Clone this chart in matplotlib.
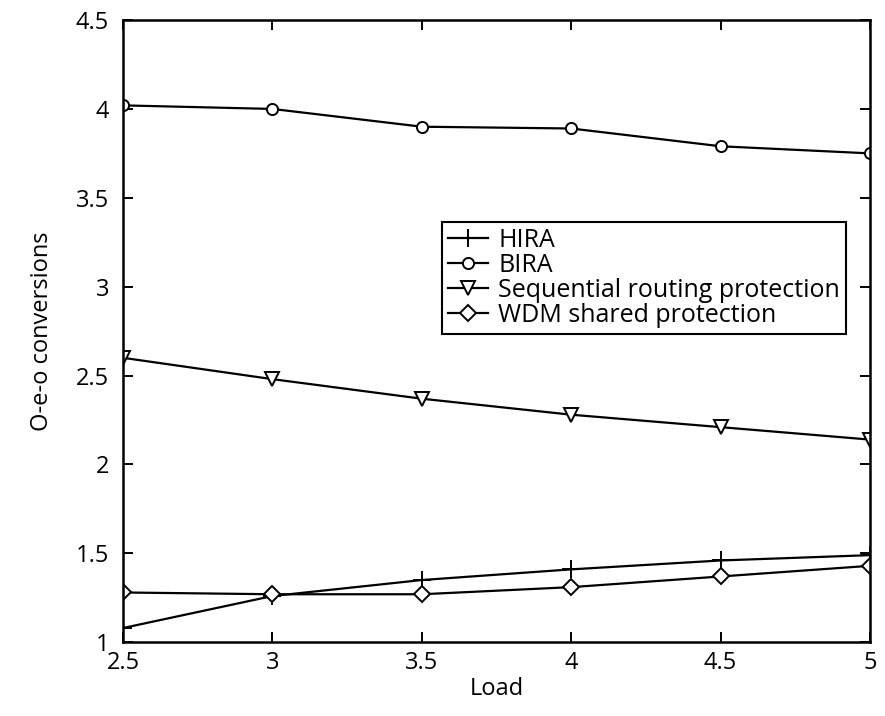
import numpy as np
import matplotlib
matplotlib.use('Agg')
import matplotlib.pyplot as plt

# Datos
carga = [2.5, 3, 3.5, 4, 4.5, 5]
hira = [1.08, 1.26, 1.35, 1.41, 1.46, 1.49]
bira = [4.02, 4.00, 3.90, 3.89, 3.79, 3.75]
secuencial = [2.60, 2.48, 2.37, 2.28, 2.21, 2.14]
wdm = [1.28, 1.27, 1.27, 1.31, 1.37, 1.43]

plt.rcParams['font.family'] = ['Open Sans', 'DejaVu Sans']

fig = plt.figure(figsize=(8.85, 7.16), dpi=100)
ax = fig.add_axes([0.139, 0.103, 0.844, 0.869])

estilo = dict(color='black', linewidth=1.6, markerfacecolor='white',
              markeredgecolor='black', markersize=10, markeredgewidth=1.4)
ax.plot(carga, hira, marker='+', label='HIRA', **{**estilo, 'markersize': 13})
ax.plot(carga, bira, marker='o', label='BIRA', **{**estilo, 'markersize': 8})
ax.plot(carga, secuencial, marker='v', label='Sequential routing protection', **estilo)
ax.plot(carga, wdm, marker='D', label='WDM shared protection', **{**estilo, 'markersize': 8})

ax.set_xlim(2.5, 5)
ax.set_ylim(1, 4.5)
ax.set_xticks([2.5, 3, 3.5, 4, 4.5, 5])
ax.set_xticklabels(['2.5', '3', '3.5', '4', '4.5', '5'])
ax.set_yticks([1, 1.5, 2, 2.5, 3, 3.5, 4, 4.5])
ax.set_yticklabels(['1', '1.5', '2', '2.5', '3', '3.5', '4', '4.5'])
ax.tick_params(direction='in', top=True, right=True, labelsize=17, length=7, width=1.4)
ax.tick_params(axis='y', pad=10)
ax.tick_params(axis='x', pad=6)
for s in ax.spines.values():
    s.set_linewidth(1.8)

ax.set_xlabel('Load', fontsize=17, labelpad=2)
ax.set_ylabel('O-e-o conversions', fontsize=17, labelpad=16)

leg = ax.legend(loc='upper right', bbox_to_anchor=(0.968, 0.676), fontsize=18,
                handlelength=1.6, handletextpad=0.4, labelspacing=0.0,
                borderpad=0.25, borderaxespad=0, fancybox=False,
                edgecolor='black', framealpha=1)
leg.get_frame().set_linewidth(1.5)

plt.savefig('out.png', dpi=100)
